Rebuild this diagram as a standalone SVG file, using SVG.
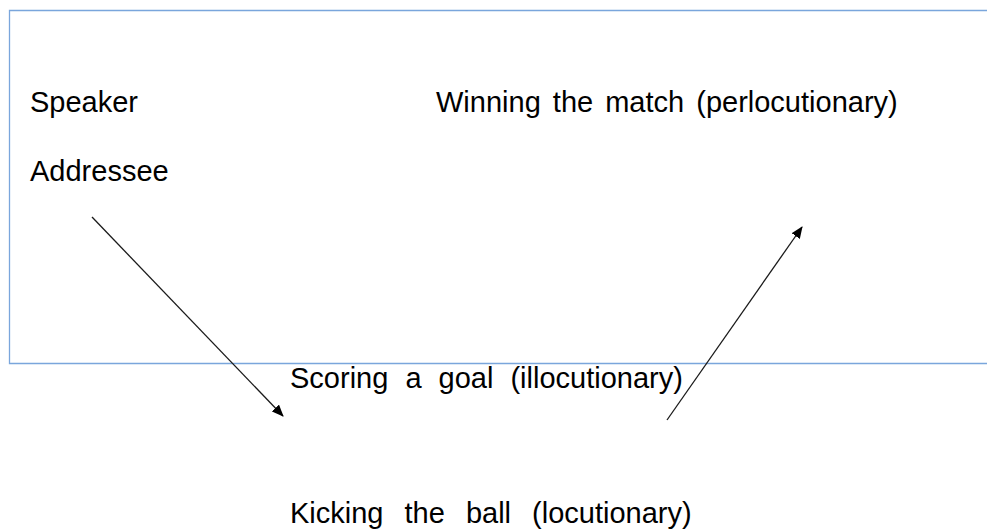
<svg xmlns="http://www.w3.org/2000/svg" width="987" height="531" viewBox="0 0 987 531">
<style>
.t{font-family:"Liberation Sans",Arial,sans-serif;font-size:29px;fill:#000}
.c{stroke:#1a1a1a;stroke-width:1.3;fill:none;marker-end:url(#ah)}
</style>
<defs>
<marker id="ah" markerWidth="12" markerHeight="10" refX="11" refY="5" orient="auto" markerUnits="userSpaceOnUse">
<path d="M0,0 L12,5 L0,10 z" fill="#000"/>
</marker>
</defs>
<rect width="987" height="531" fill="#fff"/>
<g id="frame"><path d="M1000,10.5 H9.5 V363.5 H1000" fill="none" stroke="#7aa6dc" stroke-width="1.3"/></g>
<g id="speaker"><text class="t" x="30" y="112">Speaker</text></g>
<g id="addressee"><text class="t" x="30" y="181">Addressee</text></g>
<g id="perlocutionary"><text class="t" x="436" y="112" word-spacing="4">Winning the match (perlocutionary)</text></g>
<g id="illocutionary"><text class="t" x="290" y="388" word-spacing="9">Scoring a goal (illocutionary)</text></g>
<g id="locutionary"><text class="t" x="290" y="523" word-spacing="13">Kicking the ball (locutionary)</text></g>
<g id="connectors">
<line class="c" x1="92" y1="217" x2="283" y2="416"/>
<line class="c" x1="667" y1="420" x2="802" y2="227"/>
</g>
</svg>
